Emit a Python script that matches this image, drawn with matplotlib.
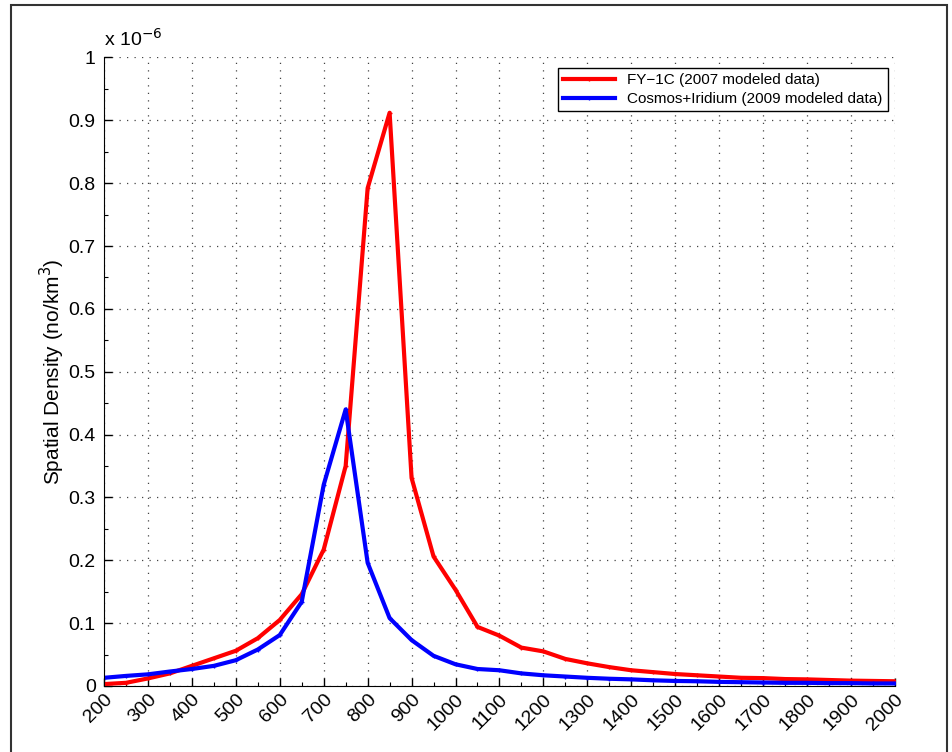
"""Spatial density vs altitude: FY-1C and Cosmos+Iridium debris (MATLAB-style figure)."""
import matplotlib
matplotlib.use("Agg")
import matplotlib.pyplot as plt
from matplotlib.patches import Rectangle
from matplotlib.ticker import MultipleLocator, FuncFormatter

plt.rcParams.update({"font.family": ["Liberation Sans", "DejaVu Sans"], "font.size": 14})

# altitude bins [km], 50 km steps
altitude = [200, 250, 300, 350, 400, 450, 500, 550, 600, 650, 700, 750, 800, 850,
            900, 950, 1000, 1050, 1100, 1150, 1200, 1250, 1300, 1350, 1400, 1450,
            1500, 1550, 1600, 1650, 1700, 1750, 1800, 1850, 1900, 1950, 2000]

# spatial density, units of 1e-6 objects/km^3
fy1c = [0.003, 0.005, 0.012, 0.020, 0.032, 0.044, 0.056, 0.076, 0.105, 0.146,
        0.217, 0.350, 0.792, 0.912, 0.331, 0.206, 0.153, 0.094, 0.080, 0.061,
        0.055, 0.043, 0.036, 0.030, 0.025, 0.022, 0.019, 0.017, 0.015, 0.013,
        0.0125, 0.011, 0.0105, 0.0095, 0.0085, 0.008, 0.0075]
cosmos_iridium = [0.013, 0.016, 0.0185, 0.023, 0.027, 0.032, 0.041, 0.058, 0.081,
                  0.134, 0.320, 0.440, 0.196, 0.108, 0.073, 0.048, 0.0345, 0.027,
                  0.025, 0.020, 0.017, 0.015, 0.013, 0.0115, 0.0105, 0.009, 0.008,
                  0.0075, 0.0065, 0.006, 0.0055, 0.005, 0.005, 0.0045, 0.0045,
                  0.004, 0.004]

labels = ["FY\u22121C (2007 modeled data)", "Cosmos+Iridium (2009 modeled data)"]

fig = plt.figure(figsize=(9.53, 7.52), dpi=100)
ax = fig.add_axes([0.1091, 0.0878, 0.830, 0.8358])

ax.plot(altitude, fy1c, color="#ff0000", lw=3, marker="+", ms=3, mew=1, label=labels[0])
ax.plot(altitude, cosmos_iridium, color="#0000ff", lw=3, marker="+", ms=3, mew=1,
        label=labels[1])

ax.set_xlim(200, 2000)
ax.set_ylim(0, 1)
ax.xaxis.set_major_locator(MultipleLocator(100))
ax.xaxis.set_minor_locator(MultipleLocator(50))
ax.yaxis.set_major_locator(MultipleLocator(0.1))
ax.yaxis.set_minor_locator(MultipleLocator(0.05))
ax.yaxis.set_major_formatter(FuncFormatter(lambda v, _: f"{v:g}"))
ax.tick_params(which="both", direction="in", top=False, right=False, labelsize=14)
ax.tick_params(which="major", length=6, width=1)
ax.tick_params(which="minor", length=3, width=0.8)
ax.tick_params(axis="y", pad=6)
plt.setp(ax.get_xticklabels(), rotation=45, ha="right", rotation_mode="anchor")

for s in ("top", "right"):
    ax.spines[s].set_visible(False)
ax.grid(True, which="major", linestyle=(0, (1, 5)), color="#444444", lw=0.9)
ax.set_axisbelow(True)

ax.set_ylabel("Spatial Density (no/km$^3$)", fontsize=15, labelpad=1)
ax.text(0, 1.012, "x 10$^{-6}$", transform=ax.transAxes, fontsize=14, va="bottom")

leg = ax.legend(loc="upper right", bbox_to_anchor=(0.991, 0.983), borderaxespad=0,
                fontsize=11, handlelength=3.4, fancybox=False, framealpha=1,
                edgecolor="black", borderpad=0.35, labelspacing=0.3)
leg.get_frame().set_linewidth(1)

# outer figure border
fig.patches.append(Rectangle((11 / 953, -0.05), 936 / 953, 1.05 - 5 / 752,
                             transform=fig.transFigure, fill=False,
                             edgecolor="#333333", lw=1.5))

fig.savefig("out.png", dpi=100)
